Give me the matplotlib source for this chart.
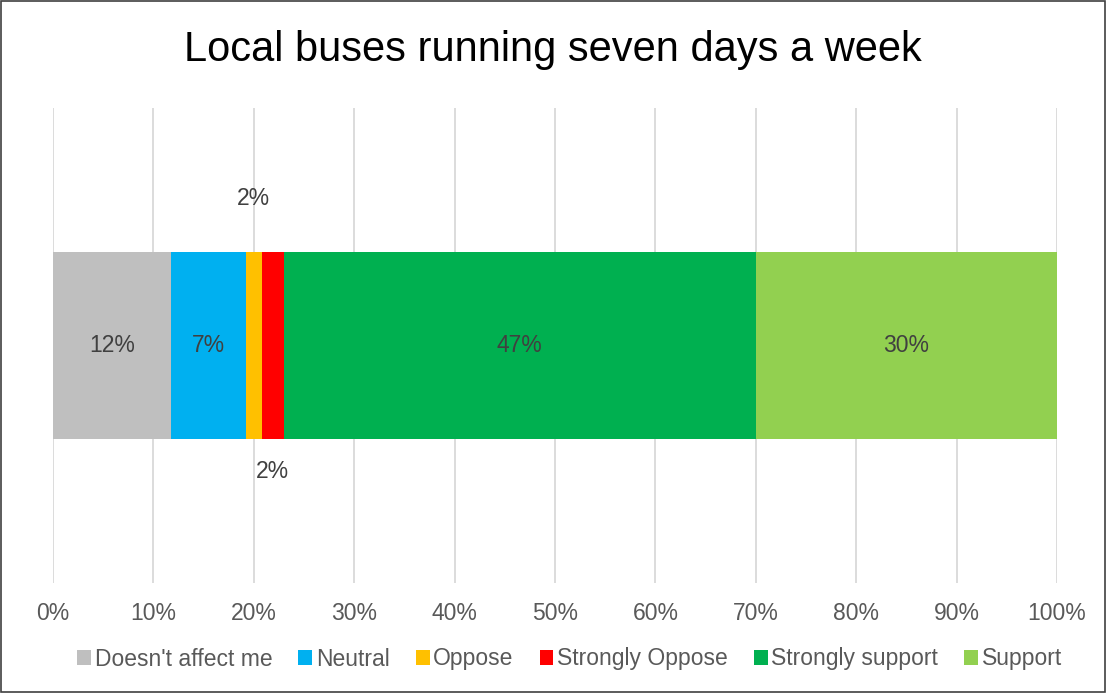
import matplotlib.pyplot as plt
from matplotlib.patches import Rectangle

categories = ["Doesn't affect me", "Neutral", "Oppose", "Strongly Oppose",
              "Strongly support", "Support"]
values = [11.75, 7.45, 1.6, 2.2, 47.0, 30.0]
labels = ["12%", "7%", "2%", "2%", "47%", "30%"]
colors = ["#bfbfbf", "#00b0f0", "#ffc000", "#ff0000", "#00b050", "#92d050"]

plt.rcParams['font.family'] = ['Liberation Sans', 'DejaVu Sans']

fig = plt.figure(figsize=(11.06, 6.93), dpi=100)
ax = fig.add_axes([53 / 1106, 1 - 583 / 693, 1004 / 1106, 475 / 693])

left = 0
for cat, val, lab, col in zip(categories, values, labels, colors):
    ax.barh(0, val, left=left, height=0.395, color=col, label=cat, zorder=2)
    mid = left + val / 2
    if cat == "Oppose":
        ax.text(mid, 0.31, lab, ha='center', va='center', fontsize=16.5, color='#404040')
    elif cat == "Strongly Oppose":
        ax.text(mid, -0.265, lab, ha='center', va='center', fontsize=16.5, color='#404040')
    else:
        ax.text(mid, 0, lab, ha='center', va='center', fontsize=16.5, color='#404040')
    left += val

ax.set_xlim(0, 100)
ax.set_ylim(-0.5, 0.5)
ax.set_xticks(range(0, 101, 10))
ax.set_xticklabels([f"{t}%" for t in range(0, 101, 10)])
ax.set_yticks([])
ax.tick_params(axis='x', length=0, labelsize=16.5, labelcolor='#595959', pad=14)
ax.grid(axis='x', color='#d9d9d9', linewidth=1.3, zorder=0)
for s in ax.spines.values():
    s.set_visible(False)

fig.text(0.5, 1 - 50 / 693, "Local buses running seven days a week",
         ha='center', va='center', fontsize=30, color='#000000')

fig.legend(loc='center', bbox_to_anchor=(0.515, 1 - 659 / 693), ncol=6, frameon=False,
           fontsize=16.5, handlelength=0.6, handleheight=0.6, handletextpad=0.15,
           columnspacing=1.15, labelcolor='#595959')

fig.patches.append(Rectangle((0.001, 0.001), 0.998, 0.998, transform=fig.transFigure,
                             fill=False, edgecolor='#404040', linewidth=1.2))

fig.savefig("out.png", dpi=100)
